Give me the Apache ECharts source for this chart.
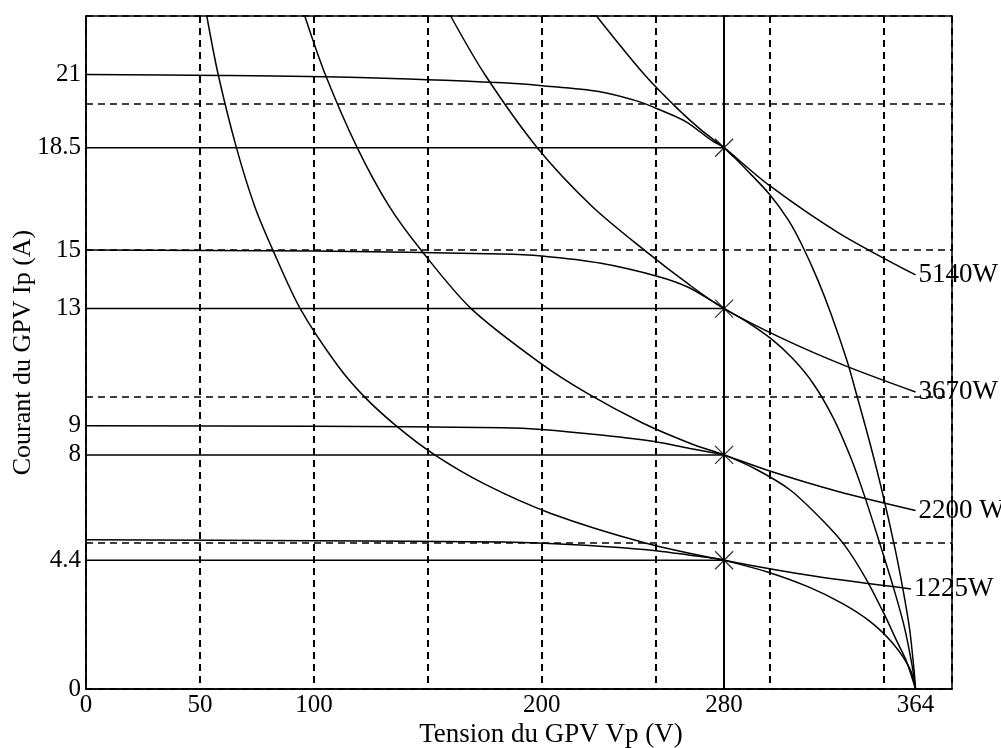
<!DOCTYPE html>
<html>
<head>
<meta charset="utf-8">
<script src="https://cdn.jsdelivr.net/npm/echarts@6/dist/echarts.min.js"></script>
<style>
  html, body { margin: 0; padding: 0; background: #fff; }
  #chart { width: 1001px; height: 748px; }
</style>
</head>
<body>
<div id="chart"></div>
<script>
// tick labels shown on the axes
const xTickLabels = [0, 50, 100, 200, 280, 364];
const yTickLabels = [0, 4.4, 8, 9, 13, 15, 18.5, 21];

// operating voltage and the currents at the marked points
const vMpp = 280;
const iMpp = [18.5, 13, 8, 4.4];

// I-V curves of the PV generator [V, I]
const ivCurve21 = [
  [0, 21], [60, 20.97], [120, 20.9], [183, 20.72], [200, 20.62], [225, 20.42],
  [242, 20.09], [251, 19.82], [263, 19.4], [275, 18.72], [280, 18.5],
  [291, 17.65], [300, 16.9], [308, 16.05], [314, 15.2], [321, 14.0],
  [327, 12.8], [334, 11.2], [338, 10.1], [344, 8.4], [349.5, 6.7],
  [355, 4.8], [358.5, 3.4], [361.4, 2.05], [363.4, 0.6], [364, 0]
];
const ivCurve15 = [
  [0, 15], [100, 14.97], [182, 14.87], [200, 14.8], [226, 14.55], [251, 14.1],
  [264, 13.74], [276, 13.2], [280, 13], [290, 12.55], [301, 11.95],
  [310, 11.3], [319, 10.45], [328, 9.25], [335.6, 7.9], [341.6, 6.6],
  [347.6, 5.15], [354, 3.55], [359, 2.15], [362.5, 0.8], [364, 0]
];
const ivCurve9 = [
  [0, 9], [100, 8.98], [183, 8.93], [200, 8.87], [227, 8.67], [250, 8.45],
  [265, 8.22], [277, 8.05], [280, 8], [294, 7.51], [309, 6.8], [324, 5.7],
  [333, 4.9], [342, 3.8], [350, 2.6], [356, 1.6], [360, 0.95], [364, 0]
];
const ivCurve5 = [
  [0, 5.1], [100, 5.07], [183, 5.02], [201, 4.98], [227, 4.87], [251, 4.72],
  [266, 4.56], [277, 4.45], [280, 4.4], [299, 4.0], [317, 3.49], [332, 2.92],
  [344, 2.31], [354, 1.56], [361.6, 0.68], [364, 0]
];

// constant power curves [V, I]
const power5140 = [
  [224, 23], [245, 21], [260, 19.8], [270, 19.1], [280, 18.5], [300, 17.2],
  [330, 15.6], [364, 14.15]
];
const power3670 = [
  [160, 23], [175, 21], [198, 18.5], [222, 16.5], [245, 15], [265, 13.8],
  [280, 13], [305, 12.0], [333, 11.05], [364, 10.15]
];
const power2200 = [
  [96, 23], [105, 21], [119, 18.5], [133, 16.5], [147, 15], [169, 13],
  [200, 11.1], [220, 10.1], [244, 9.1], [265, 8.4], [280, 8], [300, 7.45],
  [330, 6.75], [364, 6.1]
];
const power1225 = [
  [53, 23], [58, 21], [66, 18.5], [74, 16.5], [82, 15], [94, 13], [110, 11.1],
  [122, 10], [136, 9], [153, 8], [175, 7], [204, 6], [245, 5], [280, 4.4],
  [320, 3.85], [362, 3.42]
];

const powerCurves = [
  { name: "5140W", data: power5140 },
  { name: "3670W", data: power3670 },
  { name: "2200 W", data: power2200 },
  { name: "1225W", data: power1225 },
];

const serif = "Liberation Serif";
const black = "#000";

const chart = echarts.init(document.getElementById("chart"));

const ivSeries = [ivCurve21, ivCurve15, ivCurve9, ivCurve5].map((d) => ({
  type: "line",
  data: d,
  smooth: 0.3,
  showSymbol: false,
  lineStyle: { color: black, width: 1.5 },
  z: 3,
}));

const powerSeries = powerCurves.map((p) => ({
  type: "line",
  name: p.name,
  data: p.data,
  smooth: 0.3,
  showSymbol: false,
  lineStyle: { color: black, width: 1.5 },
  endLabel: {
    show: true,
    formatter: p.name,
    distance: 3,
    color: black,
    fontFamily: serif,
    fontSize: 27,
  },
  z: 3,
}));

// horizontal lines from the current axis to the marked points
const mppLines = iMpp.map((i) => ({
  type: "line",
  data: [[0, i], [vMpp, i]],
  showSymbol: false,
  lineStyle: { color: black, width: 1.5 },
  z: 3,
}));

const options = {
  backgroundColor: "#fff",
  animation: false,
  grid: {
    left: 86,
    right: 49,
    top: 16,
    bottom: 59,
    outerBoundsMode: "none",
    containLabel: false,
    show: true,
    borderColor: black,
    borderWidth: 1.5,
  },
  xAxis: {
    type: "value",
    min: 0,
    max: 380,
    interval: 50,
    name: "Tension du GPV Vp (V)",
    nameLocation: "middle",
    nameGap: 32,
    nameMoveOverlap: false,
    nameTextStyle: {
      color: black,
      fontFamily: serif,
      fontSize: 27,
      padding: [0, 0, 0, 64],
    },
    axisLine: { lineStyle: { color: black, width: 1.5 } },
    axisTick: { show: false },
    axisLabel: {
      customValues: xTickLabels,
      color: black,
      fontFamily: serif,
      fontSize: 25,
      margin: 4,
    },
    splitLine: {
      show: true,
      lineStyle: { color: black, width: 2, type: [7, 5] },
    },
  },
  yAxis: {
    type: "value",
    min: 0,
    max: 23,
    interval: 5,
    name: "Courant du GPV Ip (A)",
    nameLocation: "middle",
    nameGap: 50,
    nameMoveOverlap: false,
    nameTextStyle: {
      color: black,
      fontFamily: serif,
      fontSize: 26,
    },
    axisLine: { show: true, lineStyle: { color: black, width: 1.5 } },
    axisTick: { show: false },
    axisLabel: {
      customValues: yTickLabels,
      color: black,
      fontFamily: serif,
      fontSize: 25,
      margin: 5,
    },
    splitLine: {
      show: true,
      lineStyle: { color: black, width: 1.5, type: [7, 5] },
    },
  },
  series: [
    ...ivSeries,
    ...powerSeries,
    ...mppLines,
    {
      type: "scatter",
      data: iMpp.map((i) => [vMpp, i]),
      symbol: "path://M0 0L20 20M20 0L0 20",
      symbolSize: 18,
      itemStyle: { color: "transparent", borderColor: black, borderWidth: 1.3 },
      markLine: {
        silent: true,
        symbol: "none",
        label: { show: false },
        lineStyle: { color: black, width: 2, type: "solid" },
        data: [{ xAxis: vMpp }],
      },
      z: 4,
    },
  ],
};

chart.setOption(options);
</script>
</body>
</html>
